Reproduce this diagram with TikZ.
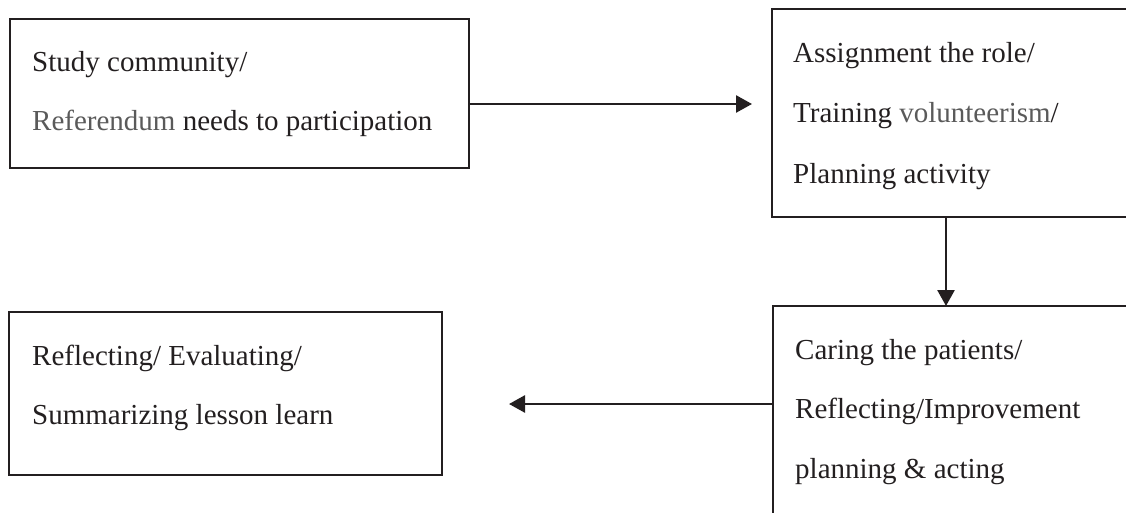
\documentclass[tikz,border=0pt]{standalone}
\usepackage{fontspec}
\setmainfont{Liberation Serif}
\usetikzlibrary{arrows.meta}
\definecolor{ink}{HTML}{231F20}
\definecolor{greytext}{HTML}{5A5A5A}
\begin{document}
\begin{tikzpicture}[x=1pt,y=-1pt,
  box/.style={draw=ink,line width=2.2pt,rectangle,inner sep=0pt,outer sep=0pt,anchor=north west},
  txt/.style={anchor=base west,inner sep=0pt,text=ink,font=\fontsize{29}{35}\selectfont},
  soft/.style={text=greytext},
  arr/.style={draw=ink,line width=2.6pt,-{Triangle[length=16pt,width=17pt]}}]
\path[use as bounding box,clip] (0,0) rectangle (1126,513);
\fill[white] (0,0) rectangle (1126,513);
% boxes
\node[box,minimum width=459pt,minimum height=149pt] (A) at (10,19) {};
\node[box,minimum width=380pt,minimum height=208pt] (B) at (772,9) {};
\node[box,minimum width=433pt,minimum height=163pt] (C) at (9,312) {};
\node[box,minimum width=380pt,minimum height=240pt] (D) at (773,306) {};
% texts
\node[txt] (A1) at (32,72) {Study community/};
\node[txt] (A2) at (32,131) {\textcolor{greytext}{Referendum} needs to participation};
\node[txt] (B1) at (793,63) {Assignment the role/};
\node[txt] (B2) at (793,123) {Training \textcolor{greytext}{volunteerism}/};
\node[txt] (B3) at (793,183) {Planning activity};
\node[txt] (C1) at (32,365) {Reflecting/ Evaluating/};
\node[txt] (C2) at (32,424) {Summarizing lesson learn};
\node[txt] (D1) at (795,359) {Caring the patients/};
\node[txt] (D2) at (795,418) {Reflecting/Improvement};
\node[txt] (D3) at (795,478) {planning \& acting};
% connectors
\coordinate (ab) at (752,104);
\draw[arr] (A.east |- ab) -- (ab);
\coordinate (bd) at (946,0);
\draw[arr] (B.south -| bd) -- (D.north -| bd);
\coordinate (dc) at (509,404);
\draw[arr] (D.west |- dc) -- (dc);
\end{tikzpicture}
\end{document}
